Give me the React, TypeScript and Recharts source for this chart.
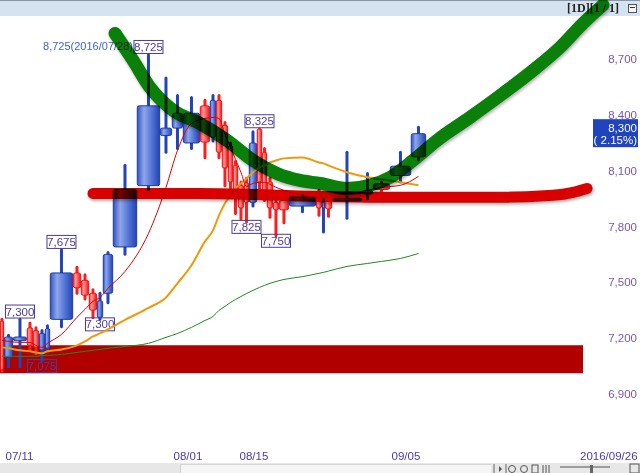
import React from 'react';
import * as RC from 'recharts';

const ComposedChart: any = (RC as any).ComposedChart;
const Bar: any = (RC as any).Bar;
const Line: any = (RC as any).Line;
const XAxis: any = (RC as any).XAxis;
const YAxis: any = (RC as any).YAxis;
const ReferenceArea: any = (RC as any).ReferenceArea;
const ReferenceLine: any = (RC as any).ReferenceLine;
const usePlotAreaSafe: () => any = (RC as any).usePlotArea || (RC as any).useOffset || (() => null);

// ---------- data ----------
// candle-volume chart: each candle's width is its traded volume
const volumes = [60, 135, 210, 90, 90, 90, 75, 345, 120, 120, 120, 90, 150, 360, 345, 180, 165, 255, 150, 90, 90, 90, 75, 75, 90, 75, 120, 75, 75, 90, 90, 150, 405, 90, 45, 105, 450, 165, 255, 315, 225];
const opens = [7290, 7095, 7185, 7255, 7240, 7135, 7145, 7300, 7550, 7510, 7440, 7310, 7440, 7690, 8020, 8290, 8330, 8250, 8450, 8280, 8480, 8345, 8235, 8130, 8020, 8035, 7930, 8325, 8200, 8040, 7930, 7940, 7910, 7975, 7900, 7940, 7938, 7975, 8030, 8075, 8175];
const highs = [7300, 7215, 7300, 7280, 7255, 7240, 7265, 7675, 7580, 7540, 7460, 7440, 7660, 8130, 8725, 8600, 8505, 8495, 8480, 8505, 8505, 8360, 8250, 8150, 8040, 8060, 8310, 8325, 8220, 8060, 7960, 7960, 7970, 7995, 7945, 7950, 8200, 8085, 8040, 8200, 8335];
const lows = [7020, 7045, 7045, 7135, 7115, 7075, 7140, 7260, 7440, 7410, 7310, 7300, 7390, 7650, 8000, 8200, 8220, 8220, 8170, 8260, 8170, 8020, 7970, 7870, 7840, 7825, 7910, 7990, 7940, 7850, 7750, 7820, 7880, 7860, 7770, 7855, 7845, 7950, 7990, 8040, 8160];
const closes = [7030, 7205, 7205, 7160, 7150, 7225, 7250, 7550, 7470, 7430, 7350, 7400, 7650, 8000, 8450, 8330, 8410, 8410, 8255, 8480, 8200, 8115, 8040, 7950, 7900, 7930, 8250, 8040, 7970, 7900, 7890, 7890, 7960, 7900, 7930, 7895, 7952, 7995, 8000, 8125, 8300];
const ma5 = [7187, 7181, 7176, 7176, 7160, 7149, 7171, 7219, 7311, 7354, 7397, 7418, 7467, 7558, 7763, 8011, 8210, 8355, 8382, 8388, 8382, 8296, 8226, 8162, 8091, 8016, 8032, 8038, 8038, 8027, 8011, 7995, 7970, 7957, 7957, 7957, 7968, 7995, 8011, 8022, 8070];
const ma20 = [7149, 7144, 7133, 7128, 7122, 7117, 7128, 7138, 7160, 7181, 7208, 7224, 7246, 7297, 7362, 7418, 7494, 7591, 7720, 7779, 7860, 7925, 7968, 8005, 8032, 8059, 8092, 8118, 8129, 8145, 8156, 8167, 8172, 8145, 8140, 8129, 8092, 8065, 8054, 8038, 8022];
const ma60 = [7101, 7101, 7101, 7101, 7101, 7106, 7106, 7111, 7122, 7128, 7133, 7138, 7144, 7154, 7171, 7203, 7224, 7257, 7294, 7316, 7348, 7370, 7391, 7407, 7423, 7439, 7456, 7472, 7483, 7494, 7504, 7515, 7530, 7548, 7553, 7560, 7585, 7601, 7612, 7628, 7655];

const prevClose = 8125;
const maxDate = '2016/07/28';
const highMarks = [2, 7, 14, 27];
const lowMarks = [5, 11, 25, 30];

const yTicks = [6900, 7200, 7500, 7800, 8100, 8400, 8700];
const xTickLabels = ['07/11', '08/01', '08/15', '09/05', '2016/09/26'];
const xTickCandles = [1, 16, 24, 39];
const visibleEnd = 8745; // end of the chart's date range (2016/09/26)

// hand-drawn annotations (volume position, price)
const bandLow = 7010;
const bandHigh = 7160;
const redStrokeX = [1395, 3000, 4800, 6000, 7500, 8295, 8595, 8805];
const redStrokeY = [7978, 7978, 7962, 7957, 7957, 7968, 7984, 8005];
const greenStrokeX = [1725, 1995, 2250, 2595, 3000, 3405, 3795, 4155, 4500, 4800, 5205, 5550, 5850, 6195, 6555, 7050, 7545, 7995, 8400, 8745, 9045];
const greenStrokeY = [8840, 8695, 8549, 8426, 8355, 8264, 8156, 8086, 8048, 8032, 8005, 8022, 8065, 8156, 8264, 8388, 8517, 8641, 8765, 8894, 8993];

// ---------- derived ----------
const CHART_W = 640;
const CHART_H = 473;
const X_DOMAIN: [number, number] = [0, 9600];
const Y_DOMAIN: [number, number] = [6620, 9020];
const FONT = "'Liberation Sans', Arial, sans-serif";

const starts: number[] = [];
let cum = 0;
volumes.forEach((v) => { starts.push(cum); cum += v; });
const rows = volumes.map((v, i) => ({
  i,
  x: starts[i] + v / 2,
  vol: v,
  open: opens[i], high: highs[i], low: lows[i], close: closes[i],
  ma5: ma5[i], ma20: ma20[i], ma60: ma60[i],
}));
const maxIdx = highs.indexOf(Math.max(...highs));
const lastClose = closes[closes.length - 1];
const pct = ((lastClose - prevClose) / prevClose) * 100;
const xTicks = [...xTickCandles.map((c) => starts[c]), visibleEnd];
const redPts = redStrokeX.map((x, i) => ({ x, v: redStrokeY[i] }));
const greenPts = greenStrokeX.map((x, i) => ({ x, v: greenStrokeY[i] }));
const fmt = (n: number) => n.toLocaleString('en-US');

function Candle(p: any) {
  const { x, y, width, height, payload } = p;
  const pa = usePlotAreaSafe();
  let plotW = CHART_W;
  if (pa && typeof pa.width === 'number') plotW = pa.width;
  else if (pa && typeof pa.left === 'number') plotW = CHART_W - pa.left - (pa.right || 0);
  if (!payload || !isFinite(y) || !isFinite(height)) return null;
  const pxPerVol = plotW / (X_DOMAIN[1] - X_DOMAIN[0]);
  const cx = x + width / 2;
  const hi = payload.high;
  const lo = payload.low;
  const py = (v: number) => y + ((hi - v) / (hi - lo)) * height;
  const up = payload.close >= payload.open;
  const w = Math.max(2, payload.vol * pxPerVol - 0.6);
  const top = py(Math.max(payload.open, payload.close));
  const bot = py(Math.min(payload.open, payload.close));
  const bh = Math.max(1.5, bot - top);
  const wickCol = up ? '#2244b8' : '#ff1c1c';
  const border = up ? '#1c3aa6' : '#f21010';
  const labCol = '#4b3a9e';
  const bw = 29;
  const bhx = 13;
  const out: any[] = [];
  out.push(<line key="w" x1={cx} x2={cx} y1={py(hi)} y2={py(lo)} stroke={wickCol} strokeWidth={3} strokeLinecap="round" />);
  out.push(<rect key="b" x={cx - w / 2} y={top} width={w} height={bh} rx={Math.min(2, w / 3)} fill={up ? 'url(#gBlue)' : 'url(#gRed)'} stroke={border} strokeWidth={1} />);
  if (highMarks.includes(payload.i)) {
    const by = py(hi) - 1.3 - bhx;
    out.push(<rect key="hb" x={cx - bw / 2} y={by} width={bw} height={bhx} fill="none" stroke={labCol} strokeWidth={1} />);
    out.push(<text key="ht" x={cx} y={by + 10.5} textAnchor="middle" fontSize={11.5} fontFamily={FONT} fill={labCol}>{fmt(hi)}</text>);
    if (payload.i === maxIdx) {
      out.push(<text key="mt" x={cx - bw / 2 - 1} y={by + 9.5} textAnchor="end" fontSize={11} fontFamily={FONT} fill="#3f63d0">{`${fmt(hi)}(${maxDate})`}</text>);
    }
  }
  if (lowMarks.includes(payload.i)) {
    const by = py(lo) - 1.5;
    out.push(<rect key="lb" x={cx - bw / 2} y={by} width={bw} height={bhx} fill="none" stroke={labCol} strokeWidth={1} />);
    out.push(<text key="lt" x={cx} y={by + 10.5} textAnchor="middle" fontSize={11.5} fontFamily={FONT} fill={labCol}>{fmt(lo)}</text>);
  }
  return <g>{out}</g>;
}

function PriceTag(p: any) {
  const vb = p.viewBox || {};
  const right = (vb.x || 0) + (vb.width || 0);
  const y = vb.y || 0;
  return (
    <g>
      <rect x={right - 47} y={y - 14.5} width={45} height={28} fill="#1f44bd" />
      <text x={right - 3} y={y - 2} textAnchor="end" fontSize={11.5} fontFamily={FONT} fill="#ffffff">{fmt(lastClose)}</text>
      <text x={right - 3} y={y + 10.5} textAnchor="end" fontSize={11.5} fontFamily={FONT} fill="#ffffff">{`( ${pct.toFixed(2)}%)`}</text>
    </g>
  );
}

const XTick = (p: any) => {
  const idx = p.index;
  const last = idx === xTickLabels.length - 1;
  return (
    <text x={p.x + (last ? -3 : 1.5)} y={p.y} dy="0.71em" textAnchor="start" fontSize={11.5} fontFamily={FONT} fill="#4a3aa6">
      {xTickLabels[idx]}
    </text>
  );
};

const YTick = (p: any) => (
  <text x={p.x} y={p.y} dy="0.35em" textAnchor="end" fontSize={11.5} fontFamily={FONT} fill="#7a56ae">
    {fmt(p.payload.value)}
  </text>
);

export default function App() {
  return (
    <div style={{ position: 'absolute', left: 0, top: 0, width: CHART_W, height: CHART_H, background: '#fff', overflow: 'hidden', fontFamily: FONT }}>
      <style>{`.anno { mix-blend-mode: multiply; filter: drop-shadow(1px 2px 1.5px rgba(0,0,0,0.3)); }`}</style>
      <svg width={0} height={0} style={{ position: 'absolute' }}>
        <defs>
          <linearGradient id="gBlue" x1="0" y1="0" x2="1" y2="0">
            <stop offset="0%" stopColor="#3354c2" />
            <stop offset="30%" stopColor="#8ea6ea" />
            <stop offset="65%" stopColor="#5374d6" />
            <stop offset="100%" stopColor="#2443b2" />
          </linearGradient>
          <linearGradient id="gRed" x1="0" y1="0" x2="1" y2="0">
            <stop offset="0%" stopColor="#ff2828" />
            <stop offset="30%" stopColor="#ff9c9c" />
            <stop offset="65%" stopColor="#ff5555" />
            <stop offset="100%" stopColor="#f01212" />
          </linearGradient>
        </defs>
      </svg>
      {/* top title bar */}
      <div style={{ position: 'absolute', left: 0, top: 0, width: 640, height: 16, background: '#d5e3f1', borderTop: '1px solid #8a97a6', boxSizing: 'border-box' }} />
      <div style={{ position: 'absolute', left: 567, top: 1, fontFamily: "'Liberation Serif', serif", fontWeight: 'bold', fontSize: 12, color: '#222', whiteSpace: 'nowrap', lineHeight: '14px' }}>[1D][1 / 1]</div>
      <div style={{ position: 'absolute', left: 628, top: 4, width: 9, height: 9, border: '1px solid #555', background: '#f4f4f4', boxSizing: 'border-box' }}>
        <div style={{ position: 'absolute', left: 1, top: 2, width: 5, height: 1, background: '#333' }} />
      </div>
      {/* bottom strip */}
      <div style={{ position: 'absolute', left: 0, top: 463, width: 640, height: 10, background: '#e7e7e7' }} />
      <div style={{ position: 'absolute', left: 180, top: 464, width: 310, height: 9, background: '#f5f5f5', borderTop: '1px solid #d6d6d6', borderLeft: '1px solid #cfcfcf' }} />
      <svg width={150} height={10} style={{ position: 'absolute', left: 490, top: 463 }}>
        <line x1={4} y1={1} x2={4} y2={10} stroke="#666" />
        <path d="M9 3 L12 6 L9 9 Z" fill="#555" />
        <line x1={16} y1={1} x2={16} y2={10} stroke="#666" />
        <circle cx={22} cy={6} r={3.5} fill="none" stroke="#555" />
        <circle cx={34} cy={6} r={3.5} fill="none" stroke="#555" />
        <rect x={42} y={2} width={6} height={8} fill="none" stroke="#555" />
        <line x1={53} y1={2} x2={53} y2={10} stroke="#555" />
        <line x1={56} y1={2} x2={56} y2={10} stroke="#555" />
        <line x1={59} y1={2} x2={59} y2={10} stroke="#555" />
        <line x1={70} y1={4} x2={120} y2={4} stroke="#555" />
        <rect x={100} y={2} width={3} height={8} fill="#666" />
        <rect x={140} y={1} width={9} height={9} fill="none" stroke="#555" />
      </svg>
      <div style={{ position: 'absolute', left: 0, top: 0 }}>
        <ComposedChart width={CHART_W} height={CHART_H} data={rows} margin={{ top: 0, right: 0, bottom: 0, left: 0 }}>
          <XAxis dataKey="x" type="number" domain={X_DOMAIN} ticks={xTicks} interval={0} tick={<XTick />} axisLine={false} tickLine={false} tickSize={0} tickMargin={6} height={27.4} />
          <YAxis type="number" orientation="right" mirror width={50} domain={Y_DOMAIN} ticks={yTicks} interval={0} tick={<YTick />} axisLine={false} tickLine={false} tickSize={0} tickMargin={3} />
          <ReferenceArea x1={0} x2={visibleEnd} y1={bandLow} y2={bandHigh} fill="#b00000" fillOpacity={1} stroke="#d88" strokeWidth={0} />
          <Bar dataKey={(d: any) => [d.low, d.high]} barSize={2} isAnimationActive={false} shape={(p: any) => <Candle {...p} />} />
          <Line dataKey="ma60" type="monotone" stroke="#1f8a1f" strokeWidth={1} dot={false} activeDot={false} isAnimationActive={false} />
          <Line dataKey="ma20" type="monotone" stroke="#ee9a0c" strokeWidth={2} dot={false} activeDot={false} isAnimationActive={false} />
          <Line dataKey="ma5" type="monotone" stroke="#e00000" strokeWidth={1} dot={false} activeDot={false} isAnimationActive={false} />
          <Line className="anno" data={redPts} dataKey="v" type="monotone" stroke="#d80000" strokeWidth={11} strokeLinecap="round" dot={false} activeDot={false} isAnimationActive={false} />
          <Line className="anno" data={greenPts} dataKey="v" type="monotone" stroke="#0a800a" strokeWidth={13} strokeLinecap="round" dot={false} activeDot={false} isAnimationActive={false} />
          <ReferenceLine y={lastClose} stroke="none" label={<PriceTag />} />
        </ComposedChart>
      </div>
    </div>
  );
}
